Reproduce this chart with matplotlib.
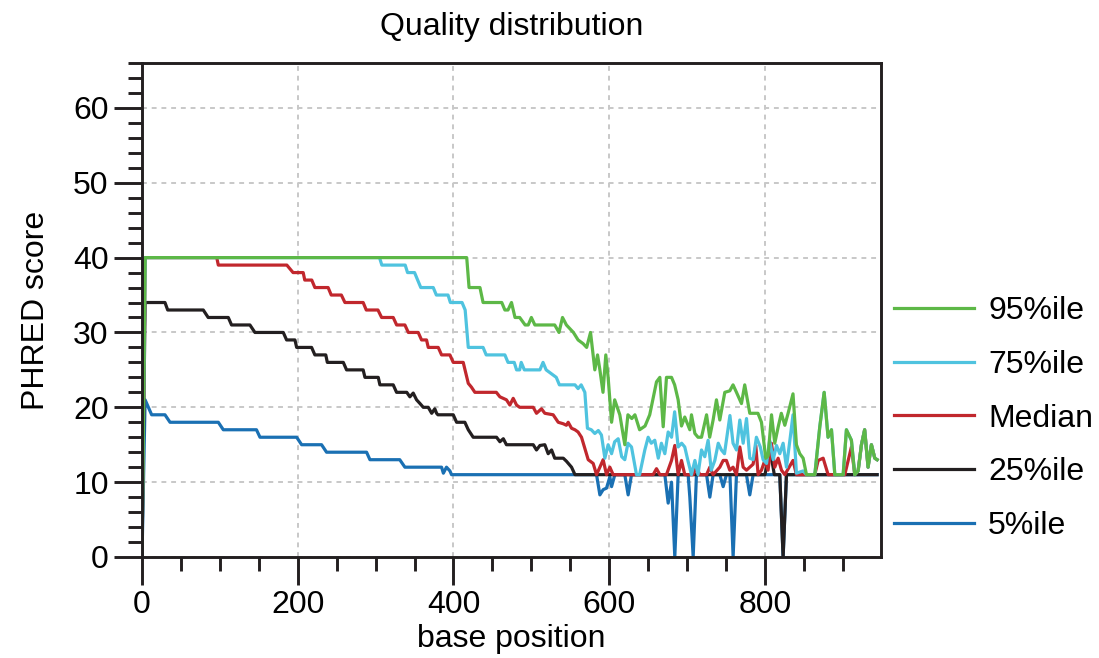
import matplotlib
matplotlib.use('Agg')
import matplotlib.pyplot as plt
from matplotlib.ticker import MultipleLocator

# ---------------------------------------------------------------
# quality percentiles per base position (breakpoints)
# ---------------------------------------------------------------
pos_95 = [0, 4, 417, 420, 434, 438, 462, 466, 470, 474.5, 479, 485, 492, 496, 500, 504.5, 530, 535.5, 540, 545,
          554, 560, 566.5, 571, 576, 581.5, 585, 588, 592, 595.6, 598.6, 603, 607, 613.6, 620, 624, 629, 633, 639,
          646, 652, 660.7, 665, 669.3, 673.5, 680, 684, 688.5, 692.8, 697, 703.5, 705.6, 710, 714, 718.5, 725, 729,
          733.4, 737.7, 742, 748.4, 754.8, 759, 763.4, 769.8, 774, 780.5, 791, 795.5, 801, 804, 808.4, 812.6, 817,
          821, 825.5, 829.7, 836, 840.4, 844.7, 849, 853.3, 864, 870.4, 876, 881, 885.4, 889.7, 900.4, 904.6, 911,
          915.3, 919.6, 923.9, 928, 932.4, 936.7, 941, 944]
q_95 = [0, 40, 40, 36, 36, 34, 34, 33, 33, 34, 32, 32, 31, 31, 32, 31, 31, 30, 32, 31,
        30, 29, 28.5, 28, 30, 25, 27, 25, 22, 27, 24, 18, 21, 19, 15, 19, 18.5, 19, 17,
        17.5, 19, 23.4, 24, 17.4, 24, 24, 23, 21, 17.5, 18.7, 17, 19, 16.5, 16, 16, 19, 16,
        18.3, 21, 18.3, 22, 22.2, 23, 22, 20.5, 23, 19.2, 19.2, 18, 13.2, 13.5, 19, 15.2, 17.4,
        19.2, 17.6, 19.2, 21.8, 15, 13.8, 13.2, 11, 11, 17.4, 22, 16, 17, 11, 11, 17, 15.6,
        11, 11.5, 15, 17, 12, 15, 13.2, 13]

pos_75 = [0, 4, 305, 308, 338, 341, 350, 354, 358, 374, 378, 393, 396, 411, 415, 419, 438, 442, 466, 470,
          478, 481, 485, 487, 491, 511, 515, 519, 532, 536, 556, 560, 564, 568.7, 572, 577, 581.5, 586, 590,
          594.4, 598.6, 603, 607, 611.5, 616, 620, 624, 628.6, 635, 639, 645.7, 650, 654, 658.5, 663, 667, 671.4,
          675.7, 680, 684, 688.5, 693, 697, 701, 705.6, 710, 714, 718.5, 722.7, 727, 731, 735.6, 740, 744, 748,
          755, 759, 763.4, 767.7, 772, 776.3, 780.5, 784.8, 789, 794, 797.6, 802, 806, 810.5, 814.8, 819, 823.3,
          827.6, 832, 836, 840.4, 849, 853.3, 864, 870.4, 876, 881, 885.4, 889.7, 900.4, 904.6, 911, 915.3, 919.6,
          923.9, 928, 932.4, 936.7, 941, 944]
q_75 = [0, 40, 40, 39, 39, 38, 38, 37, 36, 36, 35, 35, 34, 34, 33, 28, 28, 27, 27, 26,
        26, 25, 25, 26, 25, 25, 26, 25, 24, 23, 23, 22.5, 23, 22, 17.2, 17, 16.5, 16.9, 16.3,
        13.2, 15, 13.8, 15.4, 15.8, 13.4, 13, 15.2, 14.7, 11, 11, 14.3, 16, 15.2, 15.6, 13.2, 15.2, 13.8,
        16.7, 16, 19.4, 14.7, 15.2, 14.7, 12.9, 11, 12.9, 11, 14.3, 13.4, 15.6, 11.6, 12.9, 15.2, 14.3, 13.8,
        18.9, 15.2, 14.3, 18.3, 15.2, 18.5, 13.2, 13, 16, 14.7, 13, 12.5, 15.6, 13, 14.9, 13.8, 15.2,
        12, 15.6, 19, 11.2, 11.5, 11, 11, 17.4, 22, 16, 17, 11, 11, 17, 15.6, 11, 11.5,
        15, 17, 12, 15, 13.2, 13]

pos_50 = [0, 4, 96, 98, 186, 194, 207, 209, 218, 222, 239, 243, 256, 260.6, 284, 288, 303, 307.7, 322.6, 327,
          337.6, 342, 354.7, 359, 365.4, 367.6, 380.4, 384.7, 395.4, 399.7, 412.5, 419, 423, 427.5, 455, 459.6,
          468, 472.4, 476.7, 481, 485, 502.4, 506.6, 513, 517.3, 528, 534.5, 541, 545, 547.3, 551.6, 556, 560,
          564.4, 568.7, 573, 579.4, 583.7, 588, 592.2, 596.5, 600.8, 605, 656.4, 660.7, 665, 673.5, 680, 684.2,
          688.5, 692.8, 697, 707.8, 712, 716.3, 725, 729.2, 733.4, 742, 746.3, 750.5, 754.8, 759, 763.4, 767.7,
          772, 776.3, 780.5, 784.8, 788.2, 791.2, 795.5, 799.8, 804, 808.3, 812.6, 816.9, 821.2, 825.5, 836,
          840.4, 864, 868.3, 874.7, 881.1, 902.5, 911, 915.3, 919.6, 923.9, 928, 932.4, 936.7, 941, 944]
q_50 = [0, 40, 40, 39, 39, 38, 38, 37, 37, 36, 36, 35, 35, 34, 34, 33, 33, 32, 32, 31,
        31, 30, 30, 29, 29, 28, 28, 27, 27, 26, 26, 23.2, 22.7, 22, 22, 21.4,
        21, 20.3, 21.2, 20.3, 20, 20, 19.2, 19.8, 19.2, 19, 18, 17.8, 17.6, 18, 17.2, 17, 16.7,
        16, 14.5, 13, 12.5, 11, 12, 13, 11, 12, 11, 11, 11.8, 11, 11, 12.9, 14.9,
        11, 12.9, 11, 11, 12, 11, 11, 12, 11, 12, 12.9, 12.9, 11.6, 12, 11, 14.7,
        12, 11.6, 12, 12.4, 14.9, 11, 11.6, 12.9, 11.6, 15.2, 12, 13.2, 11.6, 11, 12.9,
        11, 11, 12.9, 13.2, 11, 11, 14.7, 11, 11.5, 15, 17, 12, 15, 13.2, 13]

pos_25 = [0, 4, 29.5, 33, 78.7, 85, 110.8, 115, 138.6, 145, 181.4, 185.7, 196.4, 198.6, 217.8, 222, 236, 238,
          258.5, 262.7, 284, 286.3, 303.4, 305.5, 322.6, 326.9, 340, 344, 348.3, 352.6, 357, 361.2, 367.6, 372,
          376, 378.3, 380, 399.7, 404, 414.6, 419, 425.3, 455.3, 459.6, 464, 468, 502.4, 506.6, 511, 517.3, 521.6,
          526, 530, 541, 545, 551.6, 556, 800, 804, 808.4, 812, 819, 823.3, 827.6, 944]
q_25 = [0, 34, 34, 33, 33, 32, 32, 31, 31, 30, 30, 29, 29, 28, 28, 27, 27, 26,
        26, 25, 25, 24, 24, 23, 23, 22, 22, 21.4, 21.9, 21, 20.5, 20, 20, 19.2,
        19.8, 19.2, 19, 19, 18, 18, 17, 16, 16, 15.4, 15.8, 15, 15, 14.3, 14.9, 15, 13.8,
        14.3, 13.2, 13.2, 12.8, 12, 11, 11, 13.2, 13.2, 11, 11, 0, 11, 11]

pos_5 = [0, 4, 12.4, 29.5, 36, 98, 104.4, 147, 151.5, 198.6, 205, 230.6, 237, 288.4, 292.7, 331, 337.6, 384.7,
         387, 391, 395.4, 397.5, 583.7, 588, 592.2, 596.5, 600.8, 603, 607.2, 620, 624.3, 628.6, 671.4, 675.7,
         680, 684.2, 688.5, 701.3, 703.5, 707.8, 712, 725, 729.2, 733.4, 742, 746.3, 750.5, 755, 759.1, 763.4,
         776.2, 780.5, 784.8, 819, 823.3, 827.6, 944]
q_5 = [0, 21, 19, 19, 18, 18, 17, 17, 16, 16, 15, 15, 14, 14, 13, 13, 12, 12,
       11.2, 12, 11.5, 11, 11, 8.3, 9, 9.2, 10.7, 9.4, 11, 11, 8.3, 11, 11, 7.2,
       10, 0, 11, 11, 8, 0, 11, 11, 8, 11, 11, 9.4, 11, 11, 0, 11,
       11, 8.3, 11, 11, 0, 11, 11]

series = [
    ('5%ile', pos_5, q_5, '#1a70b3'),
    ('25%ile', pos_25, q_25, '#231f20'),
    ('Median', pos_50, q_50, '#c1272d'),
    ('75%ile', pos_75, q_75, '#4fc3df'),
    ('95%ile', pos_95, q_95, '#5db847'),
]

plt.rcParams['font.family'] = ['Liberation Sans', 'DejaVu Sans']

fig = plt.figure(figsize=(10.99, 6.58), dpi=100)
ax = fig.add_axes([142 / 1099, 101 / 658, 739 / 1099, 494 / 658])

for label, x, y, color in series:
    ax.plot(x, y, color=color, lw=2.3, label=label)

ax.set_xlim(0, 949)
ax.set_ylim(0, 66)
ax.xaxis.set_major_locator(MultipleLocator(200))
ax.xaxis.set_minor_locator(MultipleLocator(50))
ax.yaxis.set_major_locator(MultipleLocator(10))
ax.yaxis.set_minor_locator(MultipleLocator(2))
ax.tick_params(which='major', direction='out', length=20, width=2.1, labelsize=23, pad=4, color='#231f20')
ax.tick_params(which='minor', direction='out', length=10, width=2.1, color='#231f20')
ax.grid(True, which='major', ls=(0, (2.5, 2.5)), color='#c8c8c8', lw=1.4)
ax.set_axisbelow(True)
for sp in ax.spines.values():
    sp.set_linewidth(2.1)
    sp.set_color('#231f20')

ax.set_xlabel('base position', fontsize=23, labelpad=3)
ax.set_ylabel('PHRED score', fontsize=23, labelpad=16)
ax.set_title('Quality distribution', fontsize=23, pad=20)

handles, labels = ax.get_legend_handles_labels()
ax.legend(handles[::-1], labels[::-1], loc='center left', bbox_to_anchor=(1.0, 0.28),
          borderaxespad=0, frameon=False, fontsize=23, handlelength=2.5,
          labelspacing=0.74, handletextpad=0.45)

fig.savefig('out.png', dpi=100)
